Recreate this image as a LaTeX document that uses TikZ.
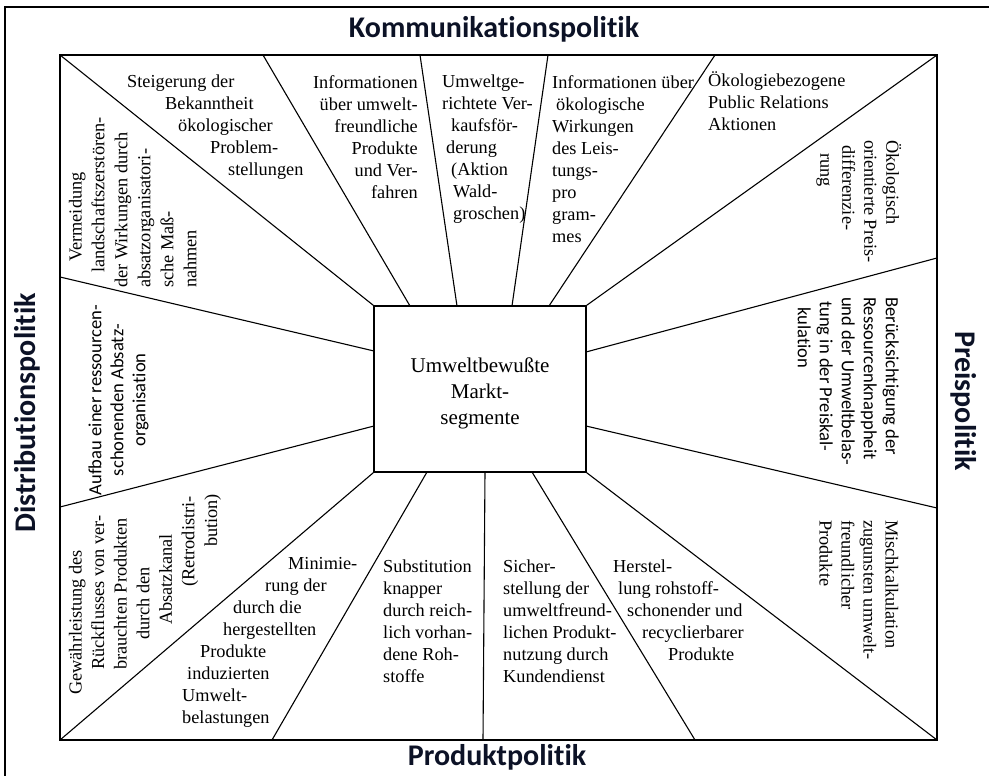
\documentclass[tikz,border=0pt]{standalone}
\usepackage{fontspec}
\setmainfont{Liberation Serif}
\newfontfamily\headfont[Ligatures=NoCommon]{Carlito}
\usepackage{xcolor}
\usepackage{tikz}
\definecolor{headblue}{RGB}{12,18,38}

\begin{document}
\begin{tikzpicture}[x=1pt, y=-1pt]
    \tikzset{
        field/.style={inner sep=0pt, align=left, font=\fontsize{18.3}{22}\selectfont},
        sansfield/.style={field, font=\headfont\fontsize{18.6}{22}\selectfont},
        heading/.style={inner sep=0pt, text=headblue, font=\headfont\bfseries\fontsize{30}{36}\selectfont},
        ray/.style={line width=1.1pt}
    }

    \useasboundingbox (0,0) rectangle (989,776);
    \draw[line width=2.2pt] (5,776) -- (5,7) -- (989,7);

    % outer frame of the scheme
    \coordinate (tl) at (60,55);
    \coordinate (tr) at (937,55);
    \coordinate (br) at (937,740);
    \coordinate (bl) at (60,740);
    \draw[ray] (tl) rectangle (br);

    \node[draw, line width=1.5pt, minimum width=212pt, minimum height=166pt, inner sep=0pt,
          align=center, font=\fontsize{21}{26}\selectfont] (mkt) at (480,389)
          {\rule{0pt}{23pt}Umweltbewußte\\Markt-\\segmente};

    % ray end points
    \coordinate (kom1o) at (263,55);  \coordinate (kom1i) at (410,306);
    \coordinate (kom2o) at (420,55);  \coordinate (kom2i) at (457,306);
    \coordinate (kom3o) at (548,55);  \coordinate (kom3i) at (512,306);
    \coordinate (kom4o) at (715,55);  \coordinate (kom4i) at (549,306);
    \coordinate (pre1o) at (937,258); \coordinate (pre1i) at (586,352);
    \coordinate (pre2o) at (937,508); \coordinate (pre2i) at (586,426);
    \coordinate (pro1o) at (695,740); \coordinate (pro1i) at (532,472);
    \coordinate (pro2o) at (483,740); \coordinate (pro2i) at (485,472);
    \coordinate (pro3o) at (272,740); \coordinate (pro3i) at (427,472);
    \coordinate (dis1o) at (60,507);  \coordinate (dis1i) at (374,426);
    \coordinate (dis2o) at (60,277);  \coordinate (dis2i) at (374,351);

    \draw[ray] (tl) -- (mkt.north west);
    \draw[ray] (tr) -- (mkt.north east);
    \draw[ray] (br) -- (mkt.south east);
    \draw[ray] (bl) -- (mkt.south west);
    \draw[ray] (kom1o) -- (kom1i);
    \draw[ray] (kom2o) -- (kom2i);
    \draw[ray] (kom3o) -- (kom3i);
    \draw[ray] (kom4o) -- (kom4i);
    \draw[ray] (pre1o) -- (pre1i);
    \draw[ray] (pre2o) -- (pre2i);
    \draw[ray] (pro1o) -- (pro1i);
    \draw[ray] (pro2o) -- (pro2i);
    \draw[ray] (pro3o) -- (pro3i);
    \draw[ray] (dis1o) -- (dis1i);
    \draw[ray] (dis2o) -- (dis2i);

    % Kommunikationspolitik
    \node[field, anchor=north west] (steig) at (127,75)
        {Steigerung der\\\hspace*{38pt}Bekanntheit\\\hspace*{51pt}ökologischer\\\hspace*{83pt}Problem-\\\hspace*{101pt}stellungen};
    \node[field, anchor=north east, align=right] (infprod) at (418,75)
        {Informationen\\über umwelt-\hspace*{8pt}\\freundliche\\Produkte\hspace*{10pt}\\und Ver-\\fahren};
    \node[field, anchor=north west] (verkauf) at (442,75)
        {Umweltge-\\richtete Ver-\\\hspace*{9pt}kaufsför-\\\hspace*{4pt}derung\\\hspace*{9pt}(Aktion\\\hspace*{11pt}Wald-\\\hspace*{11pt}groschen)};
    \node[field, anchor=north west] (infoeko) at (552,75)
        {Informationen über\\\hspace*{4pt}ökologische\\Wirkungen\\des Leis-\\tungs-\\pro\\gram-\\mes};
    \node[field, anchor=north west] (pr) at (708,71.5)
        {Ökologiebezogene\\Public Relations\\Aktionen};

    % Preispolitik
    \node[field, rotate=-90, anchor=north west] (preisdiff) at (901.5,140)
        {Ökologisch\\orientierte Preis-\\\hspace*{5pt}differenzie-\\\hspace*{13pt}rung};
    \node[sansfield, rotate=-90, anchor=north west] (knapp) at (899,297)
        {Berücksichtigung der\\Ressourcenknappheit\\und der Umweltbelas-\\\hspace*{4pt}tung in der Preiskal-\\\hspace*{10pt}kulation};
    \node[field, rotate=-90, anchor=north west] (misch) at (898.5,520)
        {Mischkalkulation\\zugunsten umwelt-\\freundlicher\\Produkte};

    % Produktpolitik
    \node[field, anchor=north west] (herst) at (613,559.5)
        {Herstel-\\\hspace*{5pt}lung rohstoff-\\\hspace*{14pt}schonender und\\\hspace*{29pt}recyclierbarer\\\hspace*{55pt}Produkte};
    \node[field, anchor=north west] (sicher) at (503,559.5)
        {Sicher-\\stellung der\\umweltfreund-\\lichen Produkt-\\nutzung durch\\Kundendienst};
    \node[field, anchor=north west] (subst) at (383,559.5)
        {Substitution\\knapper\\durch reich-\\lich vorhan-\\dene Roh-\\stoffe};
    \node[field, anchor=north west] (minim) at (182,557)
        {\hspace*{106pt}Minimie-\\\hspace*{83pt}rung der\\\hspace*{51pt}durch die\\\hspace*{41pt}hergestellten\\\hspace*{18pt}Produkte\\\hspace*{5pt}induzierten\\Umwelt-\\belastungen};

    % Distributionspolitik
    \node[field, rotate=90, anchor=north west, font=\fontsize{18.3}{22.6}\selectfont] (rueck) at (68.6,695)
        {Gewährleistung des\\\hspace*{25pt}Rückflusses von ver-\\\hspace*{25pt}brauchten Produkten\\\hspace*{55pt}durch den\\\hspace*{70pt}Absatzkanal\\\hspace*{108pt}(Retrodistri-\\\hspace*{148pt}bution)};
    \node[sansfield, rotate=90, align=center] (aufbau) at (118.5,400)
        {Aufbau einer ressourcen-\\schonenden Absatz-\\organisation};
    \node[field, rotate=90, anchor=north west, font=\fontsize{18.3}{23}\selectfont] (verm) at (68.6,288)
        {\hspace*{26pt}Vermeidung\\\hspace*{15pt}landschaftszerstören-\\der Wirkungen durch\\absatzorganisatori-\\sche Maß-\\nahmen};

    % the four policy fields
    \node[heading] (kom) at (494,29) {Kommunikationspolitik};
    \node[heading] (prod) at (497,757) {Produktpolitik};
    \node[heading, rotate=90] (dist) at (27.5,413) {Distributionspolitik};
    \node[heading, rotate=-90] (preis) at (963.5,401) {Preispolitik};
\end{tikzpicture}
\end{document}
